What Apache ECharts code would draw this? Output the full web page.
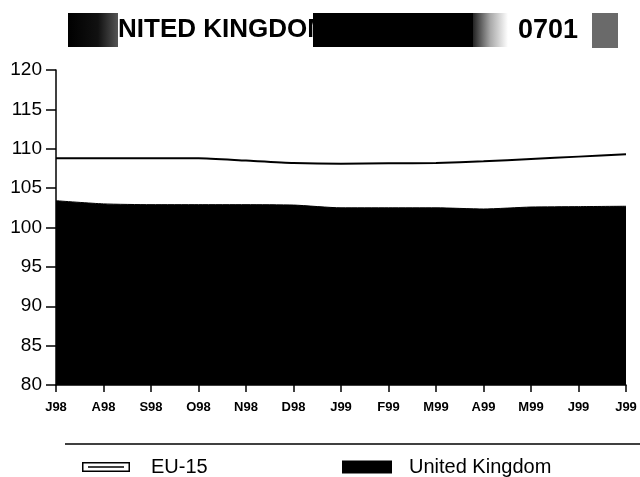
<!DOCTYPE html>
<html>
<head>
<meta charset="utf-8">
<script src="https://cdn.jsdelivr.net/npm/echarts@6/dist/echarts.min.js"></script>
<style>
html,body{margin:0;padding:0;background:#fff;}
#chart{width:640px;height:477px;}
</style>
</head>
<body>
<div id="chart"></div>
<script>
var months = ['J98','A98','S98','O98','N98','D98','J99','F99','M99','A99','M99','J99','J99'];
var eu15 = [108.8,108.8,108.8,108.8,108.5,108.2,108.1,108.15,108.2,108.4,108.7,109.0,109.3];
var uk = [103.4,103.0,102.9,102.9,102.9,102.85,102.5,102.5,102.5,102.35,102.6,102.65,102.7];
var yTicks = {min:80, max:120, interval:5};
var titleText = 'NITED KINGDOM';
var codeText = '0701';
var seriesNames = ['EU-15','United Kingdom'];

var FONT = '"Liberation Sans", Arial, Helvetica, sans-serif';
var chart = echarts.init(document.getElementById('chart'), null, {renderer:'canvas'});
chart.setOption({
  animation:false,
  backgroundColor:'#fff',
  grid:{left:56, right:14, top:70, bottom:92, containLabel:false},
  xAxis:{
    type:'category', data:months, boundaryGap:false,
    axisLine:{lineStyle:{color:'#000', width:1.5}},
    axisTick:{show:true, length:7, lineStyle:{color:'#000', width:1.5}, interval:0},
    axisLabel:{interval:0, margin:16, color:'#000', fontFamily:FONT, fontWeight:'bold', fontSize:13},
    splitLine:{show:false}
  },
  yAxis:{
    type:'value', min:yTicks.min, max:yTicks.max, interval:yTicks.interval,
    axisLine:{show:true, lineStyle:{color:'#000', width:1.5}},
    axisTick:{show:true, length:10, lineStyle:{color:'#000', width:1.5}},
    axisLabel:{margin:14, color:'#000', fontFamily:FONT, fontSize:19},
    splitLine:{show:false}
  },
  legend:[
    {data:[seriesNames[0]], left:77, top:452, itemWidth:48, itemHeight:10,
     icon:'path://M0,0H48V10H0Z M1.5,1.5V8.5H46.5V1.5Z M6,4.3H42V5.7H6Z',
     itemStyle:{color:'#000', borderWidth:0},
     textStyle:{fontFamily:FONT, fontSize:20, color:'#000', padding:[0,0,0,16]}},
    {data:[seriesNames[1]], left:337, top:452, itemWidth:50, itemHeight:13, icon:'rect',
     itemStyle:{color:'#000', borderWidth:0},
     textStyle:{fontFamily:FONT, fontSize:20, color:'#000', padding:[0,0,0,12]}}
  ],
  series:[
    {name:seriesNames[1], type:'line', data:uk, symbol:'none', smooth:0.2,
     lineStyle:{color:'#000', width:1}, itemStyle:{color:'#000'},
     areaStyle:{color:'#000', opacity:1, origin:'start'}, z:2},
    {name:seriesNames[0], type:'line', data:eu15, symbol:'none', smooth:0.2,
     lineStyle:{color:'#000', width:2}, itemStyle:{color:'#000'}, z:3}
  ],
  graphic:[
    {type:'rect', shape:{x:68, y:13, width:50, height:34},
     style:{fill:{type:'linear', x:0, y:0, x2:1, y2:0, colorStops:[{offset:0,color:'#000'},{offset:0.6,color:'#111'},{offset:1,color:'#555'}]}}},
    {type:'text', x:118, y:30, style:{text:titleText, fill:'#000', font:'bold 26px ' + FONT, textVerticalAlign:'middle', verticalAlign:'middle'}},
    {type:'rect', shape:{x:313, y:13, width:161, height:34}, style:{fill:'#000'}},
    {type:'rect', shape:{x:473, y:13, width:35, height:34},
     style:{fill:{type:'linear', x:0, y:0, x2:1, y2:0, colorStops:[{offset:0,color:'#222'},{offset:0.5,color:'#aaa'},{offset:1,color:'#fff'}]}}},
    {type:'rect', shape:{x:592, y:13, width:26, height:35}, style:{fill:'#6a6a6a'}},
    {type:'text', x:518, y:31, style:{text:codeText, fill:'#000', font:'bold 27px ' + FONT, textVerticalAlign:'middle', verticalAlign:'middle'}},
    {type:'line', shape:{x1:65, y1:444, x2:640, y2:444}, style:{stroke:'#000', lineWidth:1.5}}
  ]
});
</script>
</body>
</html>
